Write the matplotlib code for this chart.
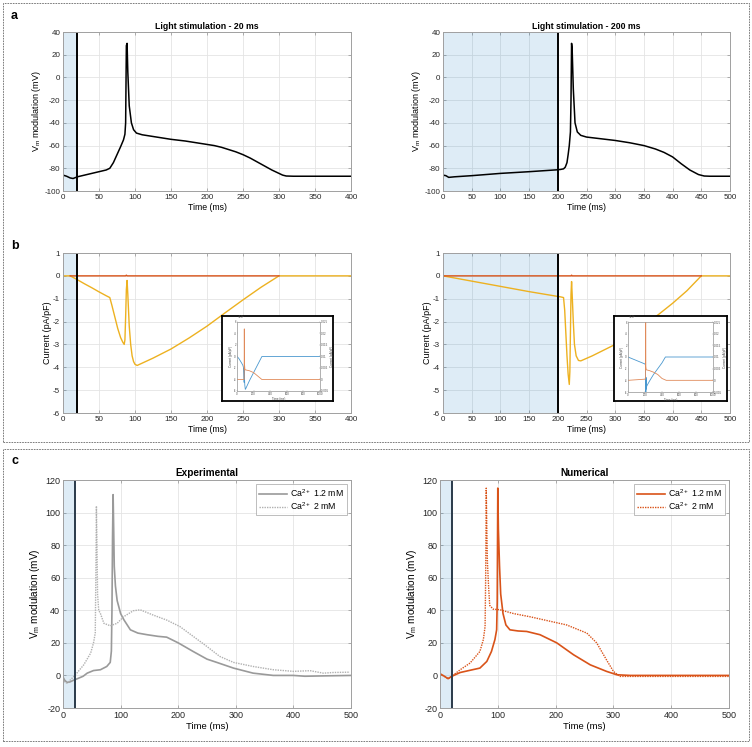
import numpy as np
import matplotlib.pyplot as plt
from matplotlib.patches import Rectangle

# ---- data ----
# panel a: membrane potential, 20 ms and 200 ms light stimulation
t_a20 = [0, 5, 10, 14, 20, 30, 40, 50, 60, 65, 70, 75, 80, 84, 86, 87, 88, 89, 90, 92, 95, 98, 102, 110, 130,
         150, 170, 190, 200, 210, 220, 230, 240, 250, 260, 270, 280, 290, 300, 305, 310, 320, 400]
v_a20 = [-86, -87, -88.5, -89, -87.5, -86, -84.5, -83, -81.5, -80, -75, -68, -61, -55, -50, -40, 28, 30, 5, -25,
         -40, -46, -49, -50.5, -52.5, -54.5, -56, -58, -59, -60, -61.5, -63.5, -65.5, -68, -71, -74.5, -78, -81.5,
         -84.5, -86, -86.8, -87, -87]
t_a200 = [0, 5, 10, 20, 50, 100, 150, 200, 205, 210, 213, 216, 218, 220, 222, 223, 224, 225, 227, 230, 234, 240,
          250, 275, 300, 325, 350, 370, 385, 400, 415, 430, 445, 455, 465, 500]
v_a200 = [-86, -86.5, -88, -87.5, -86.5, -84.5, -83, -81.3, -81, -80.5, -79, -75, -68, -60, -48, -20, 30, 25, -10,
          -40, -48, -51, -52.5, -54, -55.5, -57.5, -60, -63, -66, -70, -76, -81.5, -85.5, -86.8, -87, -87]

# panel b: currents
t_b20 = [0, 10, 20, 30, 40, 50, 60, 65, 68, 72, 76, 80, 83, 85, 86, 87, 88, 89, 90, 92, 94, 96, 98, 100, 103,
         125, 150, 175, 200, 225, 250, 275, 300, 400]
i_b20 = [0, 0, -0.17, -0.35, -0.52, -0.7, -0.87, -0.95, -1.3, -1.8, -2.3, -2.7, -2.9, -3.0, -2.8, -1.8, -0.6,
         -0.2, -0.8, -2.2, -3.0, -3.5, -3.75, -3.87, -3.92, -3.6, -3.2, -2.72, -2.2, -1.62, -1.05, -0.5, 0, 0]
t_o20 = [10, 87, 88, 89, 300]
i_o20 = [0, 0, 0.03, 0, 0]
t_b200 = [0, 50, 100, 150, 200, 205, 210, 212, 214, 216, 218, 220, 221, 222, 223, 224, 225, 227, 229, 232, 236,
          240, 260, 280, 300, 325, 350, 375, 400, 425, 450, 500]
i_b200 = [0, -0.23, -0.46, -0.69, -0.9, -0.92, -0.95, -1.5, -2.5, -3.5, -4.3, -4.75, -4.2, -2.5, -0.8, -0.25,
          -0.8, -2.0, -3.0, -3.5, -3.7, -3.72, -3.5, -3.25, -3.0, -2.6, -2.15, -1.7, -1.2, -0.65, 0, 0]
t_o200 = [0, 223, 224, 225, 450]
i_o200 = [0, 0, 0.03, 0, 0]

# insets (left axis x10^-3, right axis)
tin_20 = [0, 20, 50, 70, 80, 84, 86, 88, 90, 94, 100, 105, 150, 200, 250, 300, 1000]
blue_20 = [0, -0.3, -1.0, -1.5, -2.0, -3.5, -4.5, -2.0, -3.5, -5.0, -5.7, -5.6, -4.2, -2.8, -1.4, 0, 0]
tor_20 = [0, 86, 88, 90, 95, 100, 150, 200, 250, 300, 1000]
or_20 = [0, 0, 0.022, 0.007, 0.0045, 0.0042, 0.0038, 0.003, 0.0015, 0, 0]
tin_200 = [0, 200, 205, 208, 210, 212, 215, 220, 250, 300, 350, 400, 440, 1000]
blue_200 = [0, -1.2, -1.4, -4.0, -6.0, -3.5, -5.5, -5.0, -4.2, -3.0, -2.0, -1.0, 0, 0]
tor_200 = [0, 200, 206, 208, 210, 215, 250, 300, 350, 400, 450, 1000]
or_200 = [0, 0.0005, 0.001, 0.025, 0.006, 0.0045, 0.0042, 0.0035, 0.0025, 0.0008, 0, 0]

# panel c: experimental and numerical, Ca2+ 1.2 mM / 2 mM
t_exp12 = [0, 3, 7, 12, 18, 25, 35, 42, 53, 65, 76, 82, 84, 85, 86, 87, 88, 89, 91, 94, 100, 106, 117, 130, 146,
           165, 180, 200, 226, 250, 267, 296, 330, 365, 400, 420, 450, 500]
v_exp12 = [-1, -3, -4.3, -4, -3, -2, -0.5, 1.4, 3, 3.5, 5.5, 8, 15, 40, 85, 111, 90, 67, 55, 46, 38, 34, 28, 26,
           25, 24, 23.5, 20, 14.7, 10, 8, 4.5, 1.4, 0, 0, -0.5, -0.3, 0]
t_exp2 = [0, 3, 7, 15, 24, 36, 48, 53, 56, 57, 58, 59, 60, 62, 65, 71, 82, 94, 105, 122, 134, 157, 180, 203, 226,
          249, 272, 296, 330, 365, 400, 429, 452, 469, 498]
v_exp2 = [-2, -4, -4.7, -2, 1.4, 6.5, 13.7, 20, 26, 60, 104, 80, 50, 40, 38, 32, 30.5, 32, 36, 39.7, 40.3, 37,
          34, 30, 24, 18, 11.7, 8, 5.5, 3.5, 2.5, 2.9, 1.4, 1.8, 2]
t_num12 = [0, 8, 14, 20, 35, 50, 69, 81, 89, 95, 98, 99, 100, 101, 103, 105, 109, 114, 121, 135, 150, 173, 202,
           231, 260, 288, 306, 329, 500]
v_num12 = [1, -0.6, -2, -0.6, 1.8, 3, 4.5, 8.6, 14.7, 22, 28, 45, 115, 90, 67, 50, 38, 31, 28, 27.3, 27, 25, 20,
           12.7, 6.5, 2.5, 0.4, 0, 0]
t_num2 = [0, 8, 14, 20, 35, 52, 69, 75, 78, 79, 80, 81, 82, 84, 86, 92, 104, 127, 156, 185, 219, 254, 271, 288,
          300, 311, 500]
v_num2 = [1, -0.6, -2, -0.6, 3.5, 7.6, 14.7, 22, 30, 60, 115, 90, 70, 55, 43, 40.7, 40.3, 38, 36, 33.7, 31, 26,
          20, 9.6, 2.5, -0.6, -0.6]
legend_labels = ['Ca$^{2+}$ 1.2 mM', 'Ca$^{2+}$ 2 mM']

# ---- styling ----
W, H = 752, 747
plt.rcParams['font.family'] = ['Liberation Sans', 'DejaVu Sans']
plt.rcParams['mathtext.fontset'] = 'custom'
plt.rcParams['mathtext.rm'] = 'Liberation Sans'
plt.rcParams['mathtext.default'] = 'regular'
plt.rcParams['axes.unicode_minus'] = False

ORANGE = '#D95319'
YELLOW = '#EDB120'
BLUE_SHADE = (0.0, 0.45, 0.74)
SPINE = '#a0a0a0'


def box(l, t, r, b):
    # pixel box -> figure fraction
    return [l / W, 1 - b / H, (r - l) / W, (b - t) / H]


def style_ax(ax, fs):
    ax.grid(True, color='#e4e4e4', lw=0.6)
    ax.set_axisbelow(True)
    for s in ax.spines.values():
        s.set_color(SPINE)
        s.set_linewidth(0.7)
    ax.tick_params(direction='in', length=2.5, width=0.6, color=SPINE, top=True, right=True,
                   labelsize=fs, labelcolor='#262626', pad=2)


def inset(fig, outer, inner, tb, yb, to, yo):
    fr = fig.add_axes(box(*outer))
    fr.set_xticks([])
    fr.set_yticks([])
    for s in fr.spines.values():
        s.set_color('k')
        s.set_linewidth(1.3)
    ax = fig.add_axes(box(*inner))
    ax2 = ax.twinx()
    ax.plot(tb, yb, color='#4a98cf', lw=0.6)
    ax2.plot(to, yo, color='#e08a5a', lw=0.6)
    ax.set_xlim(0, 1000)
    ax.set_ylim(-6, 6)
    ax2.set_ylim(-0.005, 0.025)
    ax.set_xticks(range(0, 1001, 200))
    ax.set_yticks(range(-6, 7, 2))
    ax2.set_yticks(np.arange(-0.005, 0.0251, 0.005))
    ax2.set_yticklabels(['-0.005', '0', '0.005', '0.01', '0.015', '0.02', '0.025'])
    for a in (ax, ax2):
        for s in a.spines.values():
            s.set_color(SPINE)
            s.set_linewidth(0.4)
        a.tick_params(direction='in', length=1, width=0.3, color=SPINE,
                      labelsize=2, labelcolor='#444444', pad=0.8)
    ax.set_xlabel('Time (ms)', fontsize=2.2, labelpad=0.5, color='#444444')
    ax.set_ylabel('Current (pA/pF)', fontsize=2.2, labelpad=0.5, color='#444444')
    ax2.set_ylabel('Current (pA/pF)', fontsize=2.2, labelpad=0.5, color='#444444')
    ax.text(0, 1.01, r'$\times10^{-3}$', transform=ax.transAxes, fontsize=2, color='#444444', va='bottom')


fig = plt.figure(figsize=(W / 100, H / 100), dpi=100)

# ---- panel a ----
for pos, t, v, stim, xmax in [((63, 32, 351, 191), t_a20, v_a20, 20, 400),
                              ((443, 32, 730, 191), t_a200, v_a200, 200, 500)]:
    ax = fig.add_axes(box(*pos))
    style_ax(ax, 5.8)
    ax.axvspan(0, stim, color=BLUE_SHADE, alpha=0.13, lw=0)
    ax.plot(t, v, color='k', lw=1.1)
    ax.axvline(stim, color='k', lw=1.4)
    ax.set_xlim(0, xmax)
    ax.set_ylim(-100, 40)
    ax.set_xticks(range(0, xmax + 1, 50))
    ax.set_yticks(range(-100, 41, 20))
    ax.set_title('Light stimulation - %d ms' % stim, fontsize=6.3, fontweight='bold', pad=2)
    ax.set_xlabel('Time (ms)', fontsize=6.3, labelpad=1.5)
    ax.set_ylabel('V$_m$ modulation (mV)', fontsize=6.5, labelpad=1)

# ---- panel b ----
for pos, t, i, to, io, stim, xmax in [((63, 253, 351, 413), t_b20, i_b20, t_o20, i_o20, 20, 400),
                                      ((443, 253, 730, 413), t_b200, i_b200, t_o200, i_o200, 200, 500)]:
    ax = fig.add_axes(box(*pos))
    style_ax(ax, 5.8)
    ax.axvspan(0, stim, color=BLUE_SHADE, alpha=0.13, lw=0)
    ax.plot(t, i, color=YELLOW, lw=1.0)
    ax.plot(to, io, color=ORANGE, lw=1.0)
    ax.axvline(stim, color='k', lw=1.4)
    ax.set_xlim(0, xmax)
    ax.set_ylim(-6, 1)
    ax.set_xticks(range(0, xmax + 1, 50))
    ax.set_yticks(range(-6, 2))
    ax.set_xlabel('Time (ms)', fontsize=6.3, labelpad=1.5)
    ax.set_ylabel('Current (pA/pF)', fontsize=6.5, labelpad=1)

inset(fig, (222, 316, 333, 401), (237, 322, 320, 391), tin_20, blue_20, tor_20, or_20)
inset(fig, (614, 316, 727, 401), (628, 322, 713, 392), tin_200, blue_200, tor_200, or_200)

# ---- panel c ----
for pos, title, t1, v1, t2, v2, col, col2 in [
        ((63, 480, 351, 708), 'Experimental', t_exp12, v_exp12, t_exp2, v_exp2, '#9a9a9a', '#b0b0b0'),
        ((440, 480, 729, 708), 'Numerical', t_num12, v_num12, t_num2, v_num2, ORANGE, ORANGE)]:
    ax = fig.add_axes(box(*pos))
    style_ax(ax, 6.5)
    ax.axvspan(0, 20, color=BLUE_SHADE, alpha=0.13, lw=0)
    ax.plot(t1, v1, color=col, lw=1.2, label=legend_labels[0])
    ax.plot(t2, v2, color=col2, lw=1.0, ls=(0, (1, 0.8)), label=legend_labels[1])
    ax.axvline(20, color='#2a3a4a', lw=1.4)
    ax.set_xlim(0, 500)
    ax.set_ylim(-20, 120)
    ax.set_xticks(range(0, 501, 100))
    ax.set_yticks(range(-20, 121, 20))
    ax.set_title(title, fontsize=7.2, fontweight='bold', pad=3)
    ax.set_xlabel('Time (ms)', fontsize=6.8, labelpad=1.5)
    ax.set_ylabel('V$_m$ modulation (mV)', fontsize=7.2, labelpad=2)
    leg = ax.legend(loc='upper right', fontsize=6.3, fancybox=False, handlelength=3.2,
                    borderpad=0.3, labelspacing=0.2, handletextpad=0.4, borderaxespad=0.5)
    leg.get_frame().set_edgecolor(SPINE)
    leg.get_frame().set_linewidth(0.6)

# ---- panel letters and dashed frames ----
for x, y, s in [(11, 16, 'a'), (11, 246, 'b'), (11, 461, 'c')]:
    fig.text(x / W, 1 - y / H, s, fontsize=9, fontweight='bold', va='center', ha='left')

for l, t, r, b in [(3, 3, 749, 442), (3, 449, 749, 741)]:
    fig.add_artist(Rectangle((l / W, 1 - b / H), (r - l) / W, (b - t) / H, transform=fig.transFigure,
                             fill=False, ls=(0, (2, 1.2)), lw=0.6, ec='#666666'))

fig.savefig('out.png', dpi=100)
